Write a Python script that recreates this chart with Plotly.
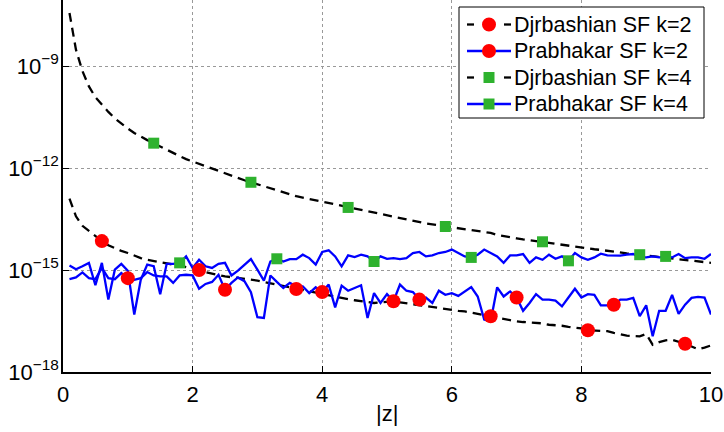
import numpy as np
import plotly.graph_objects as go

# |z| grid (0.1 ... 10.0)
z_vals = np.round(np.arange(1, 101) * 0.1, 1)

# log10 of the relative errors
djr_k2_log10 = [
    -12.90, -13.42, -13.70, -13.85, -14.00, -14.15, -14.27, -14.36, -14.44, -14.50,
    -14.58, -14.65, -14.70, -14.74, -14.77, -14.80, -14.84, -14.87, -14.91, -14.95,
    -15.00, -15.06, -15.11, -15.16, -15.19, -15.21, -15.23, -15.26, -15.28, -15.31,
    -15.35, -15.39, -15.43, -15.48, -15.52, -15.56, -15.60, -15.64, -15.68, -15.72,
    -15.76, -15.79, -15.83, -15.86, -15.89, -15.92, -15.95, -15.97, -15.95, -15.93,
    -15.92, -15.95, -15.98, -16.00, -16.02, -16.05, -16.08, -16.11, -16.14, -16.17,
    -16.20, -16.22, -16.25, -16.28, -16.32, -16.36, -16.40, -16.44, -16.48, -16.51,
    -16.53, -16.54, -16.55, -16.57, -16.61, -16.62, -16.64, -16.67, -16.69, -16.72,
    -16.77, -16.78, -16.78, -16.80, -16.85, -16.90, -16.93, -16.94, -16.95, -16.88,
    -17.20, -17.12, -17.07, -17.05, -17.10, -17.17, -17.25, -17.33, -17.28, -17.22,
]
prab_k2_log10 = [
    -15.27, -15.22, -15.07, -15.24, -15.27, -14.94, -15.24, -15.27, -15.09, -15.24,
    -15.29, -15.24, -15.06, -15.16, -15.19, -15.19, -15.38, -15.16, -15.14, -15.16,
    -15.55, -15.41, -15.35, -15.14, -15.58, -15.38, -15.22, -15.33, -15.65, -16.39,
    -16.41, -15.16, -15.35, -15.53, -15.38, -15.48, -15.48, -15.68, -15.51, -15.65,
    -15.43, -16.10, -15.46, -15.61, -15.53, -15.45, -16.41, -15.68, -15.97, -15.71,
    -15.92, -15.43, -15.61, -15.65, -15.87, -15.81, -15.97, -15.61, -15.73, -15.68,
    -15.76, -15.63, -15.50, -15.78, -16.46, -16.51, -15.51, -15.78, -15.63, -15.81,
    -16.20, -15.97, -15.71, -15.87, -15.87, -15.90, -16.07, -15.81, -15.55, -15.81,
    -15.71, -15.73, -16.04, -16.04, -16.02, -15.87, -15.87, -15.82, -16.36, -16.04,
    -16.95, -16.20, -16.20, -15.73, -16.29, -16.02, -15.82, -15.79, -15.81, -16.31,
]
djr_k4_log10 = [
    -7.44, -8.52, -9.15, -9.60, -9.92, -10.15, -10.35, -10.54, -10.70, -10.84,
    -10.97, -11.08, -11.18, -11.27, -11.37, -11.47, -11.56, -11.65, -11.74, -11.81,
    -11.88, -11.96, -12.03, -12.10, -12.17, -12.24, -12.30, -12.36, -12.42, -12.48,
    -12.55, -12.61, -12.67, -12.73, -12.79, -12.83, -12.87, -12.91, -12.95, -12.99,
    -13.04, -13.08, -13.12, -13.16, -13.20, -13.24, -13.28, -13.32, -13.36, -13.39,
    -13.45, -13.49, -13.52, -13.56, -13.60, -13.63, -13.66, -13.69, -13.72, -13.75,
    -13.77, -13.80, -13.82, -13.85, -13.88, -13.91, -13.97, -14.01, -14.04, -14.07,
    -14.10, -14.12, -14.15, -14.17, -14.20, -14.23, -14.26, -14.29, -14.31, -14.34,
    -14.36, -14.39, -14.41, -14.44, -14.46, -14.48, -14.51, -14.53, -14.55, -14.57,
    -14.59, -14.61, -14.63, -14.65, -14.67, -14.70, -14.72, -14.74, -14.77, -14.79,
]
prab_k4_log10 = [
    -14.87, -14.98, -14.89, -14.79, -15.45, -14.79, -15.87, -14.99, -14.82, -15.02,
    -16.31, -15.29, -14.84, -14.89, -15.71, -14.82, -14.82, -14.79, -14.60, -14.94,
    -14.70, -14.89, -14.94, -14.82, -14.79, -15.16, -15.02, -14.86, -14.68, -14.99,
    -15.31, -14.75, -14.67, -14.75, -14.68, -14.68, -14.55, -14.65, -14.84, -14.47,
    -14.42, -14.60, -14.89, -14.57, -14.62, -14.55, -14.60, -14.75, -14.60, -14.67,
    -14.65, -14.68, -14.65, -14.50, -14.47, -14.60, -14.57, -14.50, -14.47, -14.40,
    -14.50, -14.60, -14.63, -14.55, -14.40, -14.50, -14.60, -14.79, -14.57, -14.57,
    -14.53, -14.79, -14.63, -14.70, -14.55, -14.67, -14.60, -14.73, -14.50, -14.63,
    -14.70, -14.63, -14.52, -14.57, -14.57, -14.58, -14.55, -14.53, -14.63, -14.63,
    -14.60, -14.63, -14.60, -14.63, -14.53, -14.65, -14.63, -14.63, -14.67, -14.53,
]

# |z| positions where markers are shown
mark_djr_k2 = [0.6, 2.1, 3.6, 5.1, 6.6, 8.1, 9.6]
mark_prab_k2 = [1.0, 2.5, 4.0, 5.5, 7.0, 8.5]
mark_djr_k4 = [1.4, 2.9, 4.4, 5.9, 7.4, 8.9]
mark_prab_k4 = [1.8, 3.3, 4.8, 6.3, 7.8, 9.3]

names = ["Djrbashian SF k=2", "Prabhakar SF k=2", "Djrbashian SF k=4", "Prabhakar SF k=4"]
x_title = "|z|"
y_ticks = [1e-18, 1e-15, 1e-12, 1e-9]
y_tick_text = ["10<sup>\u221218</sup>", "10<sup>\u221215</sup>",
               "10<sup>\u221212</sup>", "10<sup>\u22129</sup>"]
x_ticks = [0, 2, 4, 6, 8, 10]

RED = "#ff0000"
GREEN = "rgb(46,178,46)"
BLUE = "#0000ff"
FONT = "Liberation Sans, Arial, sans-serif"
DASH = "9px,6px"

series = [
    (djr_k2_log10, mark_djr_k2, "black", True, "circle", RED, 14),
    (prab_k2_log10, mark_prab_k2, BLUE, False, "circle", RED, 14),
    (djr_k4_log10, mark_djr_k4, "black", True, "square", GREEN, 11),
    (prab_k4_log10, mark_prab_k4, BLUE, False, "square", GREEN, 11),
]

W, H = 724, 432
ML, MR, MT, MB = 63, 13, 0, 60
PW, PH = W - ML - MR, H - MT - MB


def px2paper_x(px):
    return (px - ML) / PW


def px2paper_y(py):
    return 1 - (py - MT) / PH


fig = go.Figure()
z_list = [float(v) for v in z_vals]
# lines
for vals, marks, lc, dashed, sym, mc, ms in series:
    y = [10.0 ** v for v in vals]
    line = dict(color=lc, width=2.3)
    if dashed:
        line["dash"] = DASH
    fig.add_trace(go.Scatter(x=z_list, y=y, mode="lines", line=line,
                             showlegend=False, hoverinfo="skip"))
# markers
for vals, marks, lc, dashed, sym, mc, ms in series:
    idx = [int(round(m * 10)) - 1 for m in marks]
    mx = [z_list[i] for i in idx]
    my = [10.0 ** vals[i] for i in idx]
    fig.add_trace(go.Scatter(x=mx, y=my, mode="markers",
                             marker=dict(symbol=sym, color=mc, size=ms, line=dict(width=0)),
                             showlegend=False))

# custom legend (box, samples, labels)
shapes = []
annotations = []
box = dict(x0=459, x1=704, y0=7, y1=118)
shapes.append(dict(type="rect", xref="paper", yref="paper", layer="above",
                   x0=px2paper_x(box["x0"]), x1=px2paper_x(box["x1"]),
                   y0=px2paper_y(box["y1"]), y1=px2paper_y(box["y0"]),
                   fillcolor="white", line=dict(color="black", width=1)))
row_y = [24.5, 51, 77.5, 104]
for (vals, marks, lc, dashed, sym, mc, ms), name, ry in zip(series, names, row_y):
    yy = px2paper_y(ry)
    if dashed:
        for a, b in [(467, 474), (504, 511)]:
            shapes.append(dict(type="line", xref="paper", yref="paper", layer="above",
                               x0=px2paper_x(a), x1=px2paper_x(b), y0=yy, y1=yy,
                               line=dict(color=lc, width=2.3)))
    else:
        shapes.append(dict(type="line", xref="paper", yref="paper", layer="above",
                           x0=px2paper_x(467), x1=px2paper_x(511), y0=yy, y1=yy,
                           line=dict(color=lc, width=2.3)))
    shapes.append(dict(type="circle" if sym == "circle" else "rect",
                       xref="paper", yref="paper", layer="above",
                       xsizemode="pixel", ysizemode="pixel",
                       xanchor=px2paper_x(489), yanchor=yy,
                       x0=-ms / 2, x1=ms / 2, y0=-ms / 2, y1=ms / 2,
                       fillcolor=mc, line=dict(width=0)))
    annotations.append(dict(text=name, xref="paper", yref="paper",
                            x=px2paper_x(512), y=yy, xanchor="left", yanchor="middle",
                            showarrow=False,
                            font=dict(family=FONT, size=21.5, color="black")))

# x-axis title
annotations.append(dict(text=x_title, xref="paper", yref="paper",
                        x=0.5, y=px2paper_y(414), xanchor="center", yanchor="middle",
                        showarrow=False, font=dict(family=FONT, size=22, color="black")))

axis_common = dict(
    showline=True, linecolor="black", linewidth=1.5,
    ticks="inside", ticklen=6, tickcolor="black",
    showgrid=True, gridcolor="#999999", griddash="dot", gridwidth=1,
    zeroline=False, mirror=False, automargin=False,
    tickfont=dict(family=FONT, size=22, color="black"),
)

fig.update_layout(
    width=W, height=H,
    margin=dict(l=ML, r=MR, t=MT, b=MB),
    paper_bgcolor="white", plot_bgcolor="white",
    font=dict(family=FONT, size=22, color="black"),
    xaxis=dict(range=[0, 10], tickvals=x_ticks, ticklabelstandoff=2,
               **axis_common),
    yaxis=dict(type="log", range=[-18, -18 + PH / 34.0], tickvals=y_ticks,
               ticktext=y_tick_text, ticklabelstandoff=-2, **axis_common),
    shapes=shapes,
    annotations=annotations,
    showlegend=False,
)

fig.write_html("out.html", config={"displayModeBar": False},
               post_script="document.body.style.margin='0';document.body.style.padding='0';")
